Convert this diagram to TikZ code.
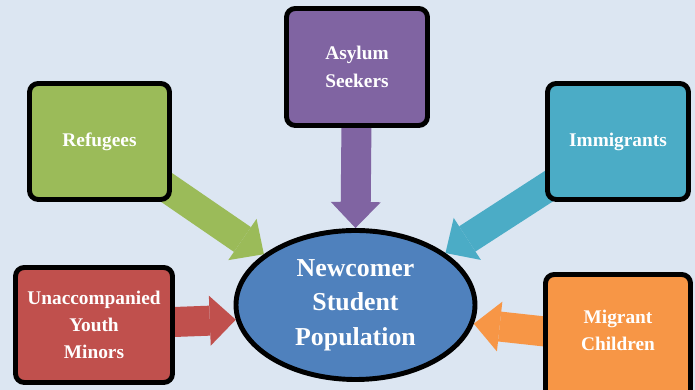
\documentclass[tikz,border=0pt]{standalone}
\usepackage{fontspec}
\setmainfont{Liberation Serif}
\usetikzlibrary{arrows.meta,shapes.geometric}
\definecolor{Bg}{RGB}{220,230,242}
\definecolor{G}{RGB}{155,187,89}
\definecolor{P}{RGB}{128,100,162}
\definecolor{T}{RGB}{75,172,198}
\definecolor{R}{RGB}{192,80,77}
\definecolor{O}{RGB}{247,150,70}
\definecolor{B}{RGB}{79,129,189}
\pgfdeclarelayer{paper}
\pgfdeclarelayer{links}
\pgfsetlayers{paper,links,main}

\begin{document}
\begin{tikzpicture}[
  catbox/.style={draw=black, line width=2.8pt, rounded corners=5pt, align=center,
    text=white, font=\bfseries\fontsize{11}{15.5}\selectfont,
    minimum width=2.82cm, minimum height=2.32cm, inner sep=2pt},
  feed/.style={line width=0.6cm, -{Triangle[width=1cm,length=0.52cm,line width=0pt]}}
]
  \useasboundingbox (0,0) rectangle (13.9,7.8);
  \begin{pgfonlayer}{paper}
    \fill[Bg] (0,0) rectangle (13.9,7.8);
  \end{pgfonlayer}

  % the five groups
  \node[catbox, fill=G, minimum width=2.8cm] (refugees) at (1.99,4.97) {Refugees};
  \node[catbox, fill=P, minimum height=2.34cm] (asylum) at (7.14,6.46) {Asylum\\Seekers};
  \node[catbox, fill=T] (immigrants) at (12.36,4.97) {Immigrants};
  \node[catbox, fill=R, minimum width=3.14cm, minimum height=2.3cm] (unacc) at (1.88,1.30) {Unaccompanied\\Youth\\Minors};
  \node[catbox, fill=O, minimum width=2.9cm, minimum height=2.6cm, text depth=0.36cm] (migrant) at (12.36,1.01) {Migrant\\Children};

  % centre
  \node[ellipse, draw=black, line width=2.8pt, fill=B, inner sep=0pt,
    minimum width=4.78cm, minimum height=2.98cm, align=center, text=white,
    font=\bfseries\fontsize{14.7}{19.6}\selectfont] (pop) at (7.11,1.70) {Newcomer\\Student\\Population};

  % arrows go under the boxes
  \begin{pgfonlayer}{links}
    \draw[feed, G] (refugees.center) -- (pop.151);
    \draw[feed, P] (asylum.center) -- (pop.north);
    \draw[feed, T] (immigrants.center) -- (pop.30);
    \draw[feed, R] (unacc.center) -- (pop.187);
    \draw[feed, O] (migrant.center) -- (pop.351);
  \end{pgfonlayer}
\end{tikzpicture}
\end{document}
